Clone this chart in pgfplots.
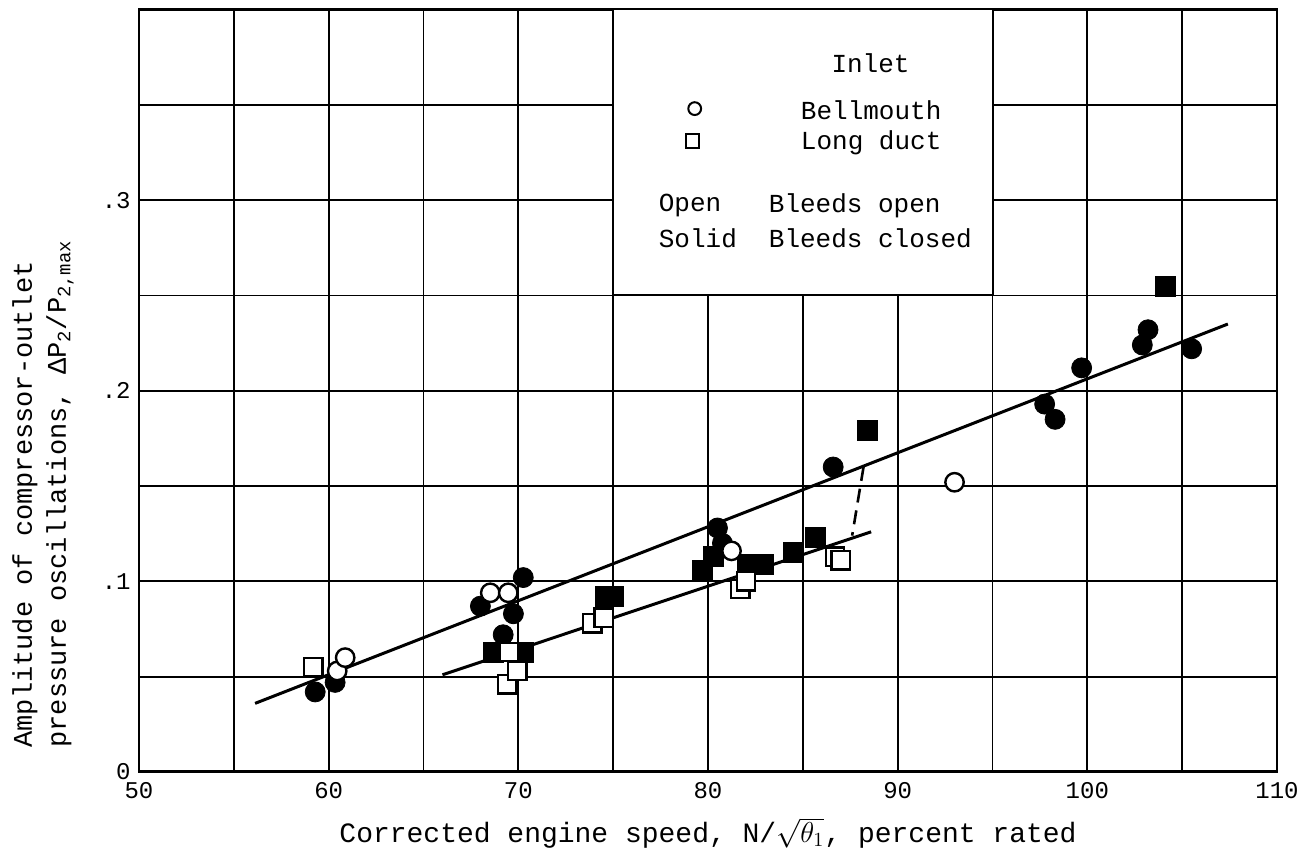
\documentclass[border=0pt]{standalone}
\usepackage{fontspec}
\setmainfont{Liberation Mono}
\usepackage{pgfplots}
\pgfplotsset{compat=1.18}
\usetikzlibrary{calc}

\begin{document}
\begin{tikzpicture}
\begin{axis}[
  name=ax,
  scale only axis,
  width=569pt, height=381.25pt,
  xmin=50, xmax=110, ymin=0, ymax=0.4,
  xtick={50,60,70,80,90,100,110},
  xticklabels={50,60,70,80,90,100,110},
  minor xtick={55,65,75,85,95,105},
  ytick={0,0.1,0.2,0.3},
  yticklabels={0,.1,.2,.3},
  minor ytick={0.05,0.15,0.25,0.35},
  grid=both,
  grid style={black, line width=0.9pt},
  minor grid style={black, line width=0.9pt},
  major grid style={black, line width=0.9pt},
  major tick length=0pt, minor tick length=0pt,
  axis line style={line width=1.1pt},
  tick label style={font=\fontsize{12}{12}\selectfont},
  xticklabel style={inner sep=1pt, yshift=-4pt},
  yticklabel style={inner sep=1pt, xshift=-3pt},
  xlabel={Corrected engine speed, N/$\sqrt{\theta_1}$, percent rated},
  xlabel style={font=\fontsize{14}{14}\selectfont, at={(axis description cs:0.5,-0.08)}, anchor=center},
  ylabel={Amplitude of compressor-outlet\\pressure oscillations, ΔP\textsubscript{2}/P\textsubscript{2,max}},
  ylabel style={font=\fontsize{13.5}{17}\selectfont, at={(axis description cs:-0.0571,0.0315)}, anchor=south west, align=left, inner sep=0pt},
]
% fitted lines
\addplot[black, line width=1.5pt] coordinates {(56.12,0.036) (107.41,0.235)};
\addplot[black, line width=1.5pt] coordinates {(66.0,0.051) (88.6,0.126)};
\addplot[black, line width=1.3pt, dash pattern=on 7pt off 4pt] coordinates {(88.2,0.160) (87.6,0.124)};

% Bellmouth, bleeds closed (solid circles)
\addplot[only marks, mark=*, mark size=5pt, mark options={fill=black, draw=black}] coordinates {
(59.29,0.042) (60.34,0.047) (68.0,0.087) (69.2,0.072) (69.74,0.083) (70.26,0.102)
(80.5,0.128) (80.76,0.120) (86.6,0.160) (97.75,0.193) (98.3,0.185) (99.7,0.212)
(102.9,0.224) (103.2,0.232) (105.5,0.222)};
% Long duct, bleeds closed (solid squares)
\addplot[only marks, mark=square*, mark size=5pt, mark options={fill=black, draw=black}] coordinates {
(68.68,0.063) (70.26,0.063) (74.6,0.092) (75.0,0.092) (79.7,0.106) (80.3,0.113)
(82.1,0.109) (82.9,0.109) (84.5,0.115) (85.67,0.123) (88.42,0.179) (104.1,0.255)};
% Long duct, bleeds open (open squares)
\addplot[only marks, mark=square*, mark size=4.6pt, mark options={fill=white, draw=black, line width=1.2pt}] coordinates {
(59.18,0.055) (69.4,0.046) (69.95,0.053) (69.5,0.063) (73.9,0.078) (74.5,0.081)
(81.7,0.096) (82.0,0.100) (86.7,0.113) (87.0,0.111)};
% Bellmouth, bleeds open (open circles)
\addplot[only marks, mark=*, mark size=4.6pt, mark options={fill=white, draw=black, line width=1.2pt}] coordinates {
(60.45,0.053) (60.87,0.060) (68.52,0.094) (69.47,0.094) (81.24,0.116) (93.0,0.152)};

% thick bottom axis
\draw[line width=2pt] (axis cs:50,0) -- (axis cs:110,0);

% legend box
\draw[fill=white, line width=1pt] (axis cs:75,0.25) rectangle (axis cs:95,0.4);
\addplot[only marks, mark=*, mark size=3.2pt, mark options={fill=white, draw=black, line width=1pt}] coordinates {(79.3,0.348)};
\addplot[only marks, mark=square*, mark size=3.3pt, mark options={fill=white, draw=black, line width=1pt}] coordinates {(79.2,0.331)};
\begin{scope}[every node/.style={font=\fontsize{13}{13}\selectfont, inner sep=0pt}]
\node[anchor=center] at (axis cs:88.57,0.372) {Inlet};
\node[anchor=west] at (axis cs:84.88,0.347) {Bellmouth};
\node[anchor=west] at (axis cs:84.88,0.330) {Long duct};
\node[anchor=west] at (axis cs:77.39,0.297) {Open};
\node[anchor=west] at (axis cs:77.39,0.280) {Solid};
\node[anchor=west] at (axis cs:83.19,0.297) {Bleeds open};
\node[anchor=west] at (axis cs:83.19,0.280) {Bleeds closed};
\end{scope}
\end{axis}
\pgfresetboundingbox
\path ($(ax.south west)+(-69.5pt,-39.5pt)$) rectangle ($(ax.north east)+(13.5pt,4.75pt)$);
\end{tikzpicture}
\end{document}
